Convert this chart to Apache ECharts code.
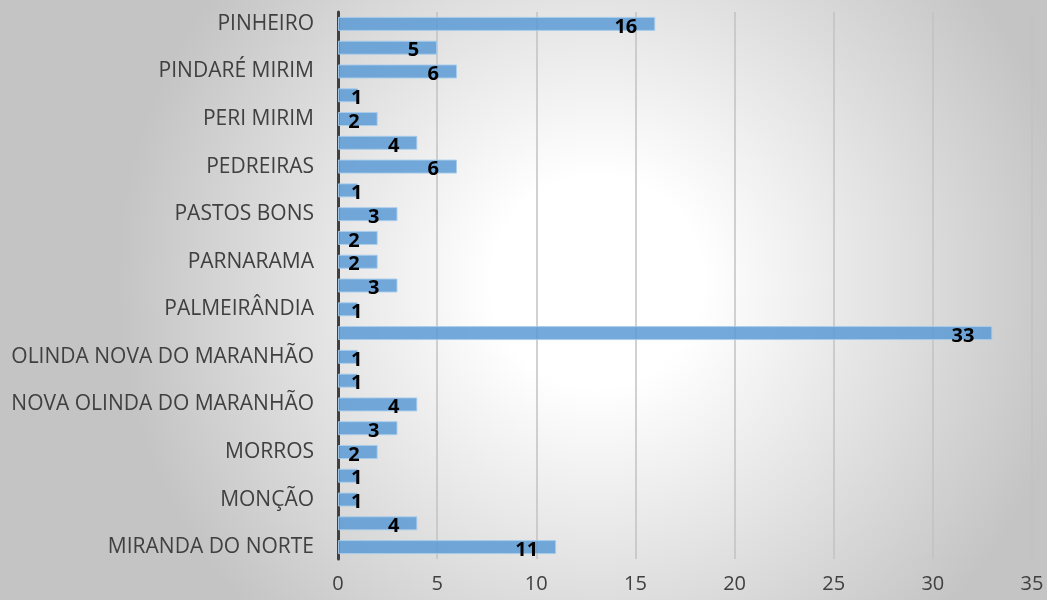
<!DOCTYPE html>
<html>
<head>
<meta charset="utf-8">
<script src="https://cdn.jsdelivr.net/npm/echarts@6/dist/echarts.min.js"></script>
<style>
  html, body { margin: 0; padding: 0; }
  #chart { width: 1047px; height: 600px; }
</style>
</head>
<body>
<div id="chart"></div>
<script>
// categories from bottom to top (every other label is hidden in the original)
const categories = [
    'MIRANDA DO NORTE', 'MIRINZAL', 'MONÇÃO', 'MONTES ALTOS', 'MORROS',
    'NINA RODRIGUES', 'NOVA OLINDA DO MARANHÃO', "OLHO D'ÁGUA DAS CUNHÃS",
    'OLINDA NOVA DO MARANHÃO', 'PAÇO DO LUMIAR', 'PALMEIRÂNDIA', 'PARAIBANO',
    'PARNARAMA', 'PASSAGEM FRANCA', 'PASTOS BONS', 'PAULO RAMOS', 'PEDREIRAS',
    'PENALVA', 'PERI MIRIM', 'PERITORÓ', 'PINDARÉ MIRIM', 'PINDARÉ-MIRIM', 'PINHEIRO'
];
const values = [11, 4, 1, 1, 2, 3, 4, 1, 1, 33, 1, 3, 2, 2, 3, 1, 6, 4, 2, 1, 6, 5, 16];
const xTicks = [0, 5, 10, 15, 20, 25, 30, 35];

const chart = echarts.init(document.getElementById('chart'));

const labelBase = { show: true, color: '#000', fontWeight: 'bold', fontSize: 20, fontFamily: 'Open Sans', offset: [0, 3] };

chart.setOption({
    backgroundColor: new echarts.graphic.RadialGradient(0.57, 0.47, 0.8, [
        { offset: 0, color: '#ffffff' },
        { offset: 0.22, color: '#ffffff' },
        { offset: 1, color: '#c4c4c4' }
    ]),
    animation: false,
    grid: { left: 338, right: 15, top: 12, bottom: 41 },
    xAxis: {
        type: 'value',
        min: xTicks[0],
        max: xTicks[xTicks.length - 1],
        interval: 5,
        axisLine: { show: false },
        axisTick: { show: false },
        axisLabel: { color: '#404040', fontSize: 20, fontFamily: 'Open Sans', margin: 15 },
        splitLine: { lineStyle: { color: '#c2c2c2', width: 1.5 } }
    },
    yAxis: {
        type: 'category',
        data: categories,
        axisLine: { show: true, lineStyle: { color: '#404040', width: 3 } },
        axisTick: { show: false },
        axisLabel: { interval: 1, color: '#404040', fontSize: 21, fontFamily: 'Open Sans', margin: 24 }
    },
    series: [{
        type: 'bar',
        barWidth: 14,
        itemStyle: {
            color: 'rgba(91,155,213,0.85)',
            borderColor: 'rgba(170,205,236,0.9)',
            borderWidth: 1
        },
        data: values.map(v => ({
            value: v,
            label: v < 2
                ? Object.assign({}, labelBase, { position: 'insideLeft', distance: 13 })
                : Object.assign({}, labelBase, { position: 'insideRight', distance: 18 })
        }))
    }]
});
</script>
</body>
</html>
